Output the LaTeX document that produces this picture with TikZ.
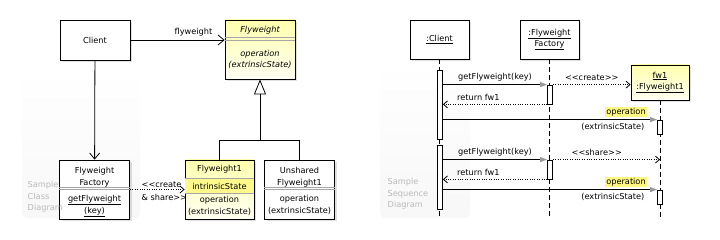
\documentclass[tikz,border=0pt]{standalone}
\usepackage{fontspec}
\setmainfont{DejaVu Sans}
\usetikzlibrary{arrows.meta,positioning,shadows}

\tikzset{
  box/.style={draw,fill=white,minimum width=70pt,minimum height=40pt,inner sep=0pt,align=center,
    drop shadow={shadow xshift=2pt,shadow yshift=-2pt,fill=black,opacity=0.12}},
  yellowbox/.style={box,top color=yellow!32!white,bottom color=yellow!5!white},
  compline/.style={draw=gray!70,line width=0.6pt},
  assoc/.style={-{Straight Barb[length=6pt,width=10pt]}},
  inherit/.style={-{Triangle[open,length=15pt,width=12pt]}},
  dotmsg/.style={dash pattern=on 0.8pt off 1.6pt,-{Straight Barb[length=4pt,width=7pt]}},
  callmsg/.style={-{Triangle[length=7pt,width=5pt,color=gray!80,fill=gray!80]}},
  lifeline/.style={dash pattern=on 5pt off 3pt},
  actbar/.style={draw,fill=white,minimum width=5pt,inner sep=0pt},
  sample/.style={text=gray!55,align=left,anchor=west},
  panel/.style={top color=white,bottom color=gray!6,rounded corners=6pt}
}

\begin{document}
\begin{tikzpicture}[x=1pt,y=-1pt,line width=0.8pt,font=\fontsize{8.2}{11.5}\selectfont,
  every node/.append style={align=center}]
\useasboundingbox (0,0) rectangle (720,240);

% faint panels
\shade[panel] (22,70) rectangle (140,218);
\shade[panel] (380,60) rectangle (470,218);

% ---- class diagram ----
\node[box] (client) at (95,40) {Client};
\node[yellowbox,minimum height=59pt] (fly) at (260,49.5) {};
\node (flyname) at (260,30) {\itshape Flyweight};
\draw[compline] ([yshift=-18pt]fly.north west) -- ([yshift=-18pt]fly.north east);
\draw[compline] ([yshift=-20.5pt]fly.north west) -- ([yshift=-20.5pt]fly.north east);
\node (flyop) at (260,59.5) {\itshape operation\\\itshape (extrinsicState)};

\node[box,minimum height=59pt] (factory) at (94.5,189.5) {};
\node (factname) at (94.5,177) {Flyweight\\Factory};
\draw[compline] ([yshift=-27.5pt]factory.north west) -- ([yshift=-27.5pt]factory.north east);
\draw[compline] ([yshift=-29.5pt]factory.north west) -- ([yshift=-29.5pt]factory.north east);
\node (factop) at (94.5,206) {\underline{getFlyweight}\\\underline{(key)}};

\node[yellowbox,minimum width=69pt,minimum height=59pt] (fw1) at (219.5,189.5) {};
\fill[yellow!45] ([xshift=0.4pt,yshift=-19pt]fw1.north west) rectangle ([xshift=-0.4pt,yshift=-34pt]fw1.north east);
\draw[compline] ([yshift=-19pt]fw1.north west) -- ([yshift=-19pt]fw1.north east);
\draw[compline] ([yshift=-34pt]fw1.north west) -- ([yshift=-34pt]fw1.north east);
\node (fw1name) at (219.5,169) {Flyweight1};
\node (fw1state) at (219.5,186.5) {intrinsicState};
\node (fw1op) at (219.5,206) {operation\\(extrinsicState)};

\node[box,minimum height=59pt] (unshared) at (299.5,189.5) {};
\node (unsname) at (299.5,177) {Unshared\\Flyweight1};
\draw[compline] ([yshift=-28pt]unshared.north west) -- ([yshift=-28pt]unshared.north east);
\draw[compline] ([yshift=-30pt]unshared.north west) -- ([yshift=-30pt]unshared.north east);
\node (unsop) at (299.5,205) {operation\\(extrinsicState)};

\node[sample] (classlbl) at (24,197) {Sample\\Class\\Diagram};

\draw[assoc] (client.east) -- node[above,pos=.67] (flylbl) {flyweight} (client.east -| fly.west);
\draw[assoc] (client) -- (factory);
\coordinate (gen) at (260,140);
\draw (fw1.north) |- (unshared.north |- gen) -- (unshared.north);
\draw[inherit] (gen) -- (fly.south);
\draw[dotmsg] (factory.east) -- (fw1.west);
\node[align=left,anchor=west,font=\fontsize{8.2}{13}\selectfont] (deplbl) at ([xshift=8pt,yshift=-2pt]factory.east) {<{}<create\\\&{} share>{}>};

% ---- sequence diagram ----
\node[box,minimum width=59pt,minimum height=39pt] (sclient) at (439.5,39.5) {\underline{:Client}};
\node[box,minimum width=59pt,minimum height=39pt] (sfactory) at (549.5,39.5) {\underline{:Flyweight}\\\underline{Factory}};
\node[yellowbox,minimum width=58pt,minimum height=35pt] (sfw1) at (660,82.5) {\underline{fw1}\\\underline{:Flyweight1}};
\coordinate (bottom) at (0,219);
\draw[lifeline] (sclient.south) -- (sclient.south |- bottom);
\draw[lifeline] (sfactory.south) -- (sfactory.south |- bottom);
\draw[lifeline] (sfw1.south) -- (sfw1.south |- bottom);

\node[actbar,minimum height=69pt] (cbar1) at (440,104.5) {};
\node[actbar,minimum height=64pt] (cbar2) at (440,177) {};
\node[actbar,minimum height=19pt] (fbar1) at (550,94.5) {};
\node[actbar,minimum height=19pt] (fbar2) at (550,169.5) {};
\node[actbar,minimum height=14pt] (obar1) at (660,127) {};
\node[actbar,minimum height=14pt] (obar2) at (660,197) {};

\node[sample] (seqlbl) at (384,194) {Sample\\Sequence\\Diagram};

% first request
\draw[callmsg] (cbar1.east |- fbar1.north) -- node[above] (m1) {getFlyweight(key)} (fbar1.north west);
\draw[dotmsg] (fbar1.north east) -- node[above] (m2) {<{}<create>{}>} (sfw1.west |- fbar1.north);
\draw[dotmsg] (fbar1.south west) -- node[above,pos=.66] (m3) {return fw1} (cbar1.east |- fbar1.south);
\draw[callmsg] (cbar1.east |- obar1.north) -- (obar1.north west)
  node[anchor=south east,xshift=-10pt,yshift=2pt,fill=yellow!50,inner sep=1pt] (m4) {operation}
  node[anchor=north east,xshift=-9pt] (m4b) {(extrinsicState)};

% second request
\draw[callmsg] (cbar2.east |- fbar2.north) -- node[above] (m5) {getFlyweight(key)} (fbar2.north west);
\draw[dotmsg] (fbar2.north east) -- node[above,pos=.41] (m6) {<{}<share>{}>} (sfw1.south |- fbar2.north);
\draw[dotmsg] (fbar2.south west) -- node[above,pos=.66] (m7) {return fw1} (cbar2.east |- fbar2.south);
\draw[callmsg] (cbar2.east |- obar2.north) -- (obar2.north west)
  node[anchor=south east,xshift=-10pt,yshift=2pt,fill=yellow!50,inner sep=1pt] (m8) {operation}
  node[anchor=north east,xshift=-9pt] (m8b) {(extrinsicState)};
\end{tikzpicture}
\end{document}
